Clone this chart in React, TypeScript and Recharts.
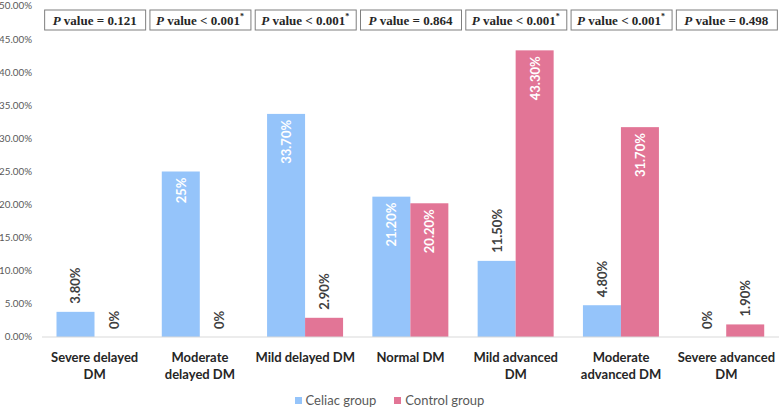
import { BarChart, Bar, XAxis, YAxis, Legend } from 'recharts';

const categories = [
  'Severe delayed\nDM',
  'Moderate\ndelayed DM',
  'Mild delayed DM',
  'Normal DM',
  'Mild advanced\nDM',
  'Moderate\nadvanced DM',
  'Severe advanced\nDM',
];
const celiac = [3.8, 25, 33.7, 21.2, 11.5, 4.8, 0];
const control = [0, 0, 2.9, 20.2, 43.3, 31.7, 1.9];
const celiacLabels = ['3.80%', '25%', '33.70%', '21.20%', '11.50%', '4.80%', '0%'];
const controlLabels = ['0%', '0%', '2.90%', '20.20%', '43.30%', '31.70%', '1.90%'];
const pValues = ['= 0.121', '< 0.001', '< 0.001', '= 0.864', '< 0.001', '< 0.001', '= 0.498'];
const pSignificant = [false, true, true, false, true, true, false];
const yTicks = [0, 5, 10, 15, 20, 25, 30, 35, 40, 45, 50];

const data = categories.map((c, i) => ({
  category: c,
  celiac: celiac[i],
  control: control[i],
  celiacLabel: celiacLabels[i],
  controlLabel: controlLabels[i],
  pValue: pValues[i],
  pSig: pSignificant[i],
}));

const BLUE = '#95C4FA';
const PINK = '#E27596';
const FONT = 'Lato, "Noto Sans", sans-serif';

function CategoryTick({ x, y, payload }: any) {
  const lines = String(payload.value).split('\n');
  return (
    <text x={x} y={y} textAnchor="middle" fontFamily={FONT} fontSize={13} fontWeight={700} fill="#262626">
      {lines.map((l, i) => (
        <tspan key={i} x={x} dy={i === 0 ? 17 : 17}>{l}</tspan>
      ))}
    </text>
  );
}

function PTick({ x, y, payload }: any) {
  const i = payload.index;
  return (
    <g>
      <rect x={x - 50} y={y + 4} width={101} height={20} fill="#fff" stroke="#7F7F7F" strokeWidth={1} />
      <text x={x} y={y + 19} textAnchor="middle" fontFamily='"Liberation Serif", serif' fontSize={13} fontWeight={700} fill="#262626">
        <tspan fontStyle="italic">P</tspan>
        <tspan> value {pValues[i]}</tspan>
        {pSignificant[i] && <tspan fontSize={8} dy={-6}>*</tspan>}
      </text>
    </g>
  );
}

// bar shape that also draws the rotated value label (so 0% bars get a label too)
function makeShape(fill: string, labelKey: string, valueKey: string) {
  return (props: any) => {
    const { x, y, width, height, payload } = props;
    const value = payload[valueKey];
    const label = payload[labelKey];
    const cx = x + width / 2;
    const inside = value >= 15;
    const top = Math.min(y, y + height);
    const ty = inside ? top + 6 : top - 8;
    return (
      <g>
        {Math.abs(height) > 0 && <rect x={x} y={top} width={width} height={Math.abs(height)} fill={fill} />}
        <text
          x={cx}
          y={ty}
          transform={`rotate(-90, ${cx}, ${ty})`}
          textAnchor={inside ? 'end' : 'start'}
          dominantBaseline="central"
          fontFamily={FONT}
          fontSize={13}
          fontWeight={700}
          fill={inside ? '#ffffff' : '#404040'}
        >
          {label}
        </text>
      </g>
    );
  };
}

function LegendContent() {
  const items = [
    { name: 'Celiac group', color: BLUE },
    { name: 'Control group', color: PINK },
  ];
  return (
    <div style={{ display: 'flex', justifyContent: 'center', gap: 18, fontFamily: FONT, fontSize: 13, color: '#595959', height: 22, alignItems: 'center' }}>
      {items.map((it) => (
        <span key={it.name} style={{ display: 'flex', alignItems: 'center', gap: 4 }}>
          <span style={{ width: 7, height: 7, background: it.color, display: 'inline-block' }} />
          {it.name}
        </span>
      ))}
    </div>
  );
}

export default function App() {
  return (
    <div style={{ position: 'fixed', left: 0, top: 0, width: 784, height: 411, background: '#fff' }}>
      <BarChart width={784} height={411} data={data} margin={{ top: 5, right: 5, left: 0, bottom: 0 }} barCategoryGap={14.5} barGap={0}>
        <XAxis
          dataKey="category"
          height={52}
          interval={0}
          tickLine={false}
          axisLine={{ stroke: '#D9D9D9' }}
          tick={<CategoryTick />}
        />
        <XAxis
          xAxisId="p"
          dataKey="category"
          orientation="top"
          height={1}
          interval={0}
          tickLine={false}
          axisLine={false}
          tickSize={0}
          tickMargin={0}
          tick={<PTick />}
        />
        <YAxis
          width={42}
          domain={[0, 50]}
          ticks={yTicks}
          interval={0}
          tickLine={false}
          axisLine={false}
          tickMargin={4}
          tickFormatter={(v: number) => `${v.toFixed(2)}%`}
          tick={{ fontSize: 9.8, fill: '#595959', fontFamily: FONT }}
        />
        <Legend verticalAlign="bottom" height={22} content={<LegendContent />} />
        <Bar dataKey="celiac" name="Celiac group" fill={BLUE} isAnimationActive={false} shape={makeShape(BLUE, 'celiacLabel', 'celiac')} />
        <Bar dataKey="control" name="Control group" fill={PINK} isAnimationActive={false} shape={makeShape(PINK, 'controlLabel', 'control')} />
      </BarChart>
    </div>
  );
}
